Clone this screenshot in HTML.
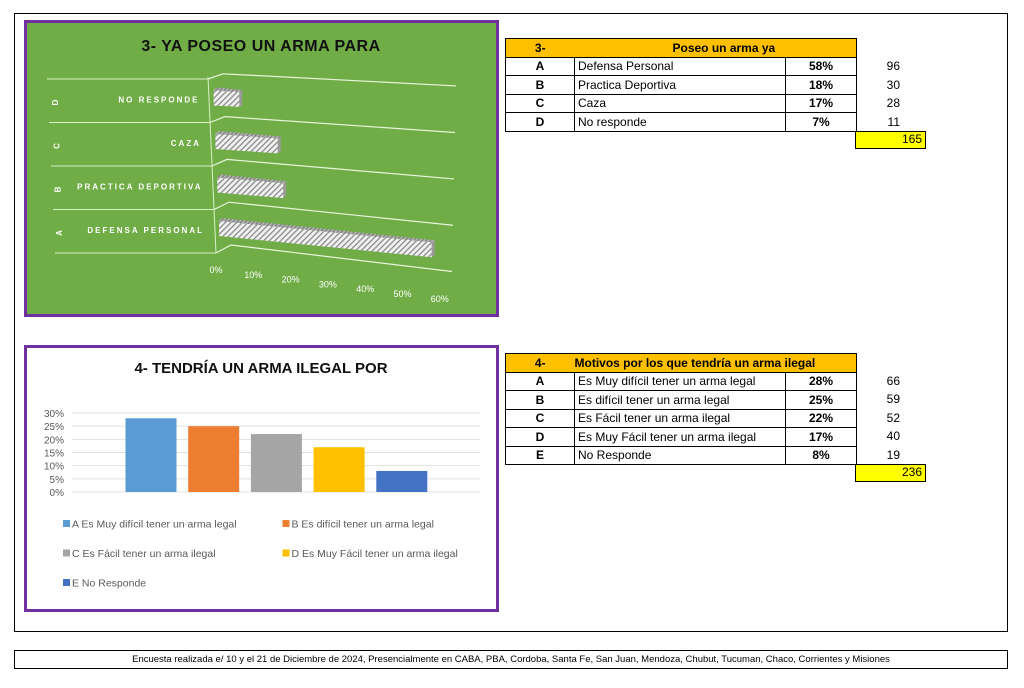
<!DOCTYPE html>
<html><head><meta charset="utf-8">
<style>
body{margin:0;width:1024px;height:688px;background:#fff;position:relative;overflow:hidden;font-family:"Liberation Sans",sans-serif}
.abs{position:absolute}
table{border-collapse:collapse;position:absolute;font-family:"Liberation Sans",sans-serif;font-size:12px;table-layout:fixed}
tr{height:18.5px}
td{border:1.5px solid #000;padding:0 3px;line-height:16px;white-space:nowrap;overflow:hidden}
td.l{text-align:center;font-weight:bold}
td.p{text-align:center;font-weight:bold}
tr.h td{background:#ffc000;font-weight:bold}
.cnt{position:absolute;font-size:12px;width:40px;text-align:right}
.tot{position:absolute;background:#ffff00;border:1.5px solid #000;font-size:12px;text-align:right;padding-right:3px;box-sizing:border-box}
</style></head><body>
<div class="abs" style="left:14px;top:13px;width:992px;height:617px;border:1.5px solid #000"></div>
<div class="abs" style="left:14px;top:650px;width:992px;height:17px;border:1.5px solid #000;font-size:9.5px;text-align:center;line-height:17px">Encuesta realizada e/ 10 y el 21 de Diciembre de 2024, Presencialmente en CABA, PBA, Cordoba, Santa Fe, San Juan, Mendoza, Chubut, Tucuman, Chaco, Corrientes y Misiones</div>

<svg class="abs" style="left:0;top:0" width="1024" height="688" id="c1">
<defs><pattern id="hatch" width="4" height="4" patternUnits="userSpaceOnUse" patternTransform="rotate(45)"><rect width="4" height="4" fill="#f2f2f2"/><rect width="1.3" height="4" fill="#8a8a8a"/></pattern>
<pattern id="hatch2" width="3" height="3" patternUnits="userSpaceOnUse" patternTransform="rotate(45)"><rect width="3" height="3" fill="#b0b0b0"/><rect width="1" height="3" fill="#777"/></pattern></defs>
<rect x="25.5" y="21.5" width="472" height="294" fill="#70ad47" stroke="#7030a0" stroke-width="3"/>
<text x="261" y="51" text-anchor="middle" font-size="16" font-weight="bold" fill="#111" letter-spacing="0.5">3- YA POSEO UN ARMA PARA</text>
<g id="c1g"></g>
</svg>

<svg class="abs" style="left:0;top:0" width="1024" height="688" id="c2">
<rect x="25.5" y="346.5" width="472" height="264" fill="#fff" stroke="#7030a0" stroke-width="3"/>
<text x="261" y="373" text-anchor="middle" font-size="15" font-weight="bold" fill="#111">4- TENDRÍA UN ARMA ILEGAL POR</text>
<g id="c2g"></g>
</svg>

<table style="left:505px;top:38px;width:351px">
<colgroup><col style="width:69px"><col style="width:211px"><col style="width:71px"></colgroup>
<tr class="h"><td style="border-right:none;text-align:center">3-</td><td colspan="2" style="border-left:none;padding-left:98px">Poseo un arma ya</td></tr>
<tr><td class="l">A</td><td>Defensa Personal</td><td class="p">58%</td></tr>
<tr><td class="l">B</td><td>Practica Deportiva</td><td class="p">18%</td></tr>
<tr><td class="l">C</td><td>Caza</td><td class="p">17%</td></tr>
<tr><td class="l">D</td><td>No responde</td><td class="p">7%</td></tr>
</table>
<div class="cnt" style="left:860px;top:59px">96</div>
<div class="cnt" style="left:860px;top:78px">30</div>
<div class="cnt" style="left:860px;top:96px">28</div>
<div class="cnt" style="left:860px;top:115px">11</div>
<div class="tot" style="left:855px;top:131px;width:71px;height:18px;line-height:15px">165</div>

<table style="left:505px;top:353px;width:351px">
<colgroup><col style="width:69px"><col style="width:211px"><col style="width:71px"></colgroup>
<tr class="h"><td style="border-right:none;text-align:center">4-</td><td colspan="2" style="border-left:none;padding-left:0">Motivos por los que tendría un arma ilegal</td></tr>
<tr><td class="l">A</td><td>Es Muy difícil tener un arma legal</td><td class="p">28%</td></tr>
<tr><td class="l">B</td><td>Es difícil tener un arma legal</td><td class="p">25%</td></tr>
<tr><td class="l">C</td><td>Es Fácil tener un arma ilegal</td><td class="p">22%</td></tr>
<tr><td class="l">D</td><td>Es Muy Fácil tener un arma ilegal</td><td class="p">17%</td></tr>
<tr><td class="l">E</td><td>No Responde</td><td class="p">8%</td></tr>
</table>
<div class="cnt" style="left:860px;top:374px">66</div>
<div class="cnt" style="left:860px;top:392px">59</div>
<div class="cnt" style="left:860px;top:411px">52</div>
<div class="cnt" style="left:860px;top:429px">40</div>
<div class="cnt" style="left:860px;top:448px">19</div>
<div class="tot" style="left:855px;top:464px;width:71px;height:18px;line-height:15px">236</div>

<script>
const NS="http://www.w3.org/2000/svg";
function mk(p,t,a){const e=document.createElementNS(NS,t);for(const k in a)e.setAttribute(k,a[k]);p.appendChild(e);return e;}
// Chart 1 data
const c1Letters=["A","B","C","D"];
const c1Cats=["DEFENSA PERSONAL","PRACTICA DEPORTIVA","CAZA","NO RESPONDE"];
const c1Vals=[58,18,17,7];
const c1Ticks=["0%","10%","20%","30%","40%","50%","60%"];
const g1=document.getElementById('c1g');
const c1Max=60, c1W=220;
function c1x(v,row){return 219-row*1.8+v/c1Max*c1W;}
for(let i=0;i<=4;i++){
  const yl=253-i*43.5, xl=216-i*2, slope=0.12-i*0.017;
  const gl=mk(g1,'line',{x1:55-i*2,y1:yl,x2:xl,y2:yl,stroke:'#d9f0c8','stroke-width':1});
  
  
  const kx=xl+15, ky=yl-8+i*0.7, ex=452+i;
  const p=mk(g1,'polyline',{points:`${xl},${yl} ${kx},${ky} ${ex},${ky+(ex-kx)*slope}`,fill:'none',stroke:'#e8f5dc','stroke-width':1.2});
  
  
}
mk(g1,'line',{x1:208,y1:77,x2:216,y2:253,stroke:'#d9f0c8','stroke-width':1});
c1Vals.forEach((v,i)=>{
  const yc=229-i*43.5, slope=0.1-i*0.015, x0=c1x(0,i), x1=c1x(v,i), dy=(x1-x0)*slope;
  const top=mk(g1,'polygon',{points:`${x0},${yc-8} ${x1},${yc-8+dy} ${x1+3},${yc-10+dy} ${x0+3},${yc-11}`,fill:'url(#hatch2)'});
  
  
  const side=mk(g1,'polygon',{points:`${x1},${yc-8+dy} ${x1+3},${yc-10+dy} ${x1+3},${yc+5+dy} ${x1},${yc+7+dy}`,fill:'#9a9a9a'});
  
  
  const b=mk(g1,'polygon',{points:`${x0},${yc-8} ${x1},${yc-8+dy} ${x1},${yc+7+dy} ${x0},${yc+7}`,fill:'url(#hatch)'});
  
  
  const t=mk(g1,'text',{x:204-i*1.5,y:yc+4,'text-anchor':'end','font-size':8,'font-weight':'bold',fill:'#fff','letter-spacing':'2'});
  t.textContent=c1Cats[i];
  
  
  const l=mk(g1,'text',{x:0,y:0,'text-anchor':'middle','font-size':8,'font-weight':'bold',fill:'#fff',transform:`translate(${62-i*1.3},${yc+4}) rotate(-90)`});
  l.textContent=c1Letters[i];
  
  
});
c1Ticks.forEach((s,i)=>{
  const t=mk(g1,'text',{x:216+i*37.3,y:273+i*4.8,'text-anchor':'middle','font-size':9,fill:'#fff'});
  t.textContent=s;
  
  
});
// Chart 2 data
const c2Cats=["A Es Muy difícil tener un arma legal","B Es difícil tener un arma legal","C Es Fácil tener un arma ilegal","D Es Muy Fácil tener un arma ilegal","E No Responde"];
const c2Vals=[28,25,22,17,8];
const c2Colors=["#5b9bd5","#ed7d31","#a5a5a5","#ffc000","#4472c4"];
const c2Ticks=[0,5,10,15,20,25,30];
const g2=document.getElementById('c2g');
const y0=492, yTop=413, yMax=30;
function c2y(v){return y0-(v/yMax)*(y0-yTop);}
c2Ticks.forEach(v=>{
  const l=mk(g2,'line',{x1:72,x2:480,y1:c2y(v),y2:c2y(v),stroke:'#e0e0e0','stroke-width':1});
  
  
  const t=mk(g2,'text',{x:64,y:c2y(v)+4,'text-anchor':'end','font-size':10,fill:'#595959'});
  t.textContent=v+'%';
  
  
});
c2Vals.forEach((v,i)=>{
  const cx=151+i*62.7;
  const r=mk(g2,'rect',{x:cx-25.5,y:c2y(v),width:51,height:y0-c2y(v),fill:c2Colors[i]});
  
  
  const lx=63+(i%2)*219.5, ly=525+Math.floor(i/2)*29.5;
  const sq=mk(g2,'rect',{x:lx,y:ly-5,width:7,height:7,fill:c2Colors[i]});
  
  
  const t=mk(g2,'text',{x:lx+9,y:ly+2.5,'font-size':10.5,fill:'#595959'});
  t.textContent=c2Cats[i];
  
  
});
</script>
</body></html>
